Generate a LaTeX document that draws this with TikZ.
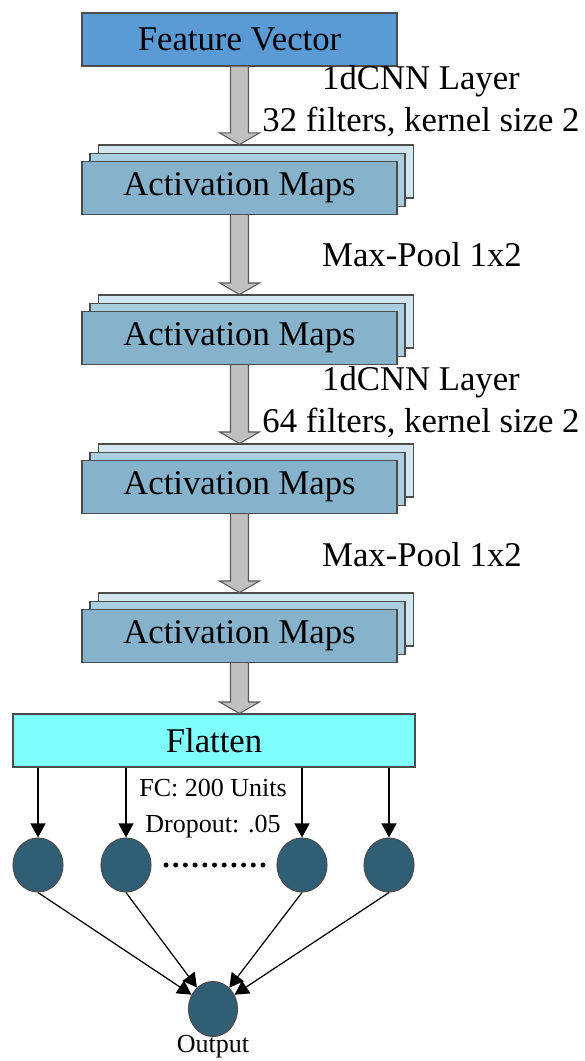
\documentclass[tikz,border=0pt]{standalone}
\usepackage{fontspec}
\setmainfont{Liberation Serif}
\usepackage{tikz}
\usetikzlibrary{calc}
\usetikzlibrary{arrows.meta}
\usetikzlibrary{shapes.geometric}
\definecolor{FeatBlue}{HTML}{5B9BD5}
\definecolor{MapFront}{HTML}{86B3CB}
\definecolor{MapMid}{HTML}{A9CEE0}
\definecolor{MapBack}{HTML}{D2E6EF}
\definecolor{FlatCyan}{HTML}{80FFFF}
\definecolor{NeuronTeal}{HTML}{305E75}
\definecolor{PipeGray}{HTML}{C0C0C0}

\tikzset{
  box/.style={draw=black!70, line width=0.6pt, minimum width=6.3cm, minimum height=1.06cm,
    inner sep=0pt, font=\rmfamily\fontsize{19.75}{24}\selectfont},
  mapbox/.style={box, fill=MapFront},
  neuron/.style={ellipse, draw=black!70, line width=0.6pt, fill=NeuronTeal,
    minimum width=1cm, minimum height=1.08cm, inner sep=0pt},
  pipe/.style={draw=black!65, fill=PipeGray, line width=0.6pt},
  side/.style={align=center, font=\rmfamily\fontsize{19.75}{23.9}\selectfont},
  small/.style={align=center, font=\rmfamily\fontsize{14.8}{20.5}\selectfont},
  link/.style={-{Triangle[length=0.28cm,width=0.3cm]}, line width=0.7pt},
}

% three stacked maps, front one carries the text
\newcommand{\mapstack}[2]{%
  \node[box, fill=MapBack] (#1c) at (5.12,#2+0.33) {};
  \node[box, fill=MapMid] (#1b) at (4.95,#2+0.16) {};
  \node[mapbox] (#1) at (4.79,#2) {Activation Maps};
}
% fat grey arrow between two boxes
\newcommand{\pipearrow}[2]{%
  \path (#1) coordinate (ps) (#1 |- #2) coordinate (pt);
  \draw[pipe] ($(ps)+(-0.18,0)$) -- ($(pt)+(-0.18,0.23)$) -- ($(pt)+(-0.4,0.23)$) -- (pt)
    -- ($(pt)+(0.4,0.23)$) -- ($(pt)+(0.18,0.23)$) -- ($(ps)+(0.18,0)$);
}

\begin{document}
\begin{tikzpicture}
  \useasboundingbox (0,0) rectangle (11.7,-21.22);

  \node[box, fill=FeatBlue] (feat) at (4.79,-0.79) {Feature Vector};

  \mapstack{am1}{-3.76}
  \mapstack{am2}{-6.76}
  \mapstack{am3}{-9.74}
  \mapstack{am4}{-12.72}

  \node[box, fill=FlatCyan, minimum width=8.04cm] (flat) at (4.28,-14.81) {Flatten};

  \pipearrow{feat.south}{am1c.north}
  \pipearrow{am1.south}{am2c.north}
  \pipearrow{am2.south}{am3c.north}
  \pipearrow{am3.south}{am4c.north}
  \pipearrow{am4.south}{flat.north}

  \node[side] (conv1) at (8.42,-2.02) {1dCNN Layer\\32 filters, kernel size 2};
  \node[side] (pool1) at (8.44,-5.1) {Max-Pool 1x2};
  \node[side] (conv2) at (8.42,-8.05) {1dCNN Layer\\64 filters, kernel size 2};
  \node[side] (pool2) at (8.44,-11.1) {Max-Pool 1x2};

  % dense layer
  \node[neuron] (n1) at (0.76,-17.3) {};
  \node[neuron] (n2) at (2.52,-17.3) {};
  \node[neuron] (n3) at (6.04,-17.3) {};
  \node[neuron] (n4) at (7.78,-17.3) {};
  \node[small] (fc) at (4.26,-16.18) {FC: 200 Units\\Dropout: .05};
  \foreach \i in {0,...,10}
    \fill (3.32+\i*0.194,-17.3) circle (0.05);

  \foreach \n in {n1,n2,n3,n4}
    \draw[link] (\n |- flat.south) -- (\n);

  \node[neuron, minimum width=0.98cm, minimum height=1.1cm] (out) at (4.26,-20.18) {};
  \node[small] (outlbl) at (4.26,-20.94) {Output};

  \foreach \n in {n1,n2,n3,n4}
    \draw[link] (\n.south) -- (out);
\end{tikzpicture}
\end{document}
